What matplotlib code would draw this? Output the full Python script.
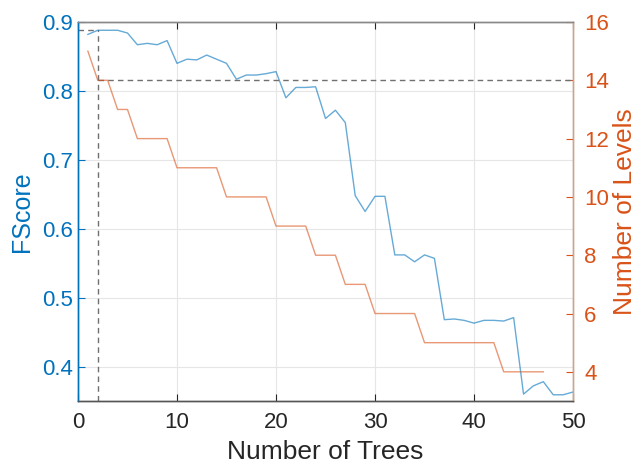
import numpy as np
import matplotlib
matplotlib.use('Agg')
import matplotlib.pyplot as plt

plt.rcParams['font.family'] = ['Liberation Sans', 'DejaVu Sans']

trees = list(range(1, 51))
fscore = [0.882, 0.888, 0.888, 0.888, 0.884, 0.867, 0.869, 0.867, 0.873, 0.840,
          0.846, 0.845, 0.852, 0.846, 0.840, 0.817, 0.823, 0.823, 0.825, 0.828,
          0.790, 0.805, 0.805, 0.806, 0.760, 0.772, 0.754, 0.648, 0.625, 0.647,
          0.647, 0.562, 0.562, 0.552, 0.562, 0.557, 0.468, 0.469, 0.467, 0.463,
          0.467, 0.467, 0.466, 0.471, 0.360, 0.372, 0.378, 0.359, 0.359, 0.363]

level_trees = list(range(1, 48))
levels = [15, 14, 14, 13, 13, 12, 12, 12, 12, 11,
          11, 11, 11, 11, 10, 10, 10, 10, 10, 9,
          9, 9, 9, 8, 8, 8, 7, 7, 7, 6,
          6, 6, 6, 6, 5, 5, 5, 5, 5, 5,
          5, 5, 4, 4, 4, 4, 4]

best_trees = 2
best_fscore = 0.888
best_levels = 14

blue = '#0072BD'
orange = '#D95319'
dark = '#262626'

fig = plt.figure(figsize=(6.36, 4.68), dpi=100)
ax = fig.add_axes([0.1226, 0.1432, 0.7784, 0.8098])
ax2 = ax.twinx()

ax.plot(trees, fscore, color=blue, lw=1.0, alpha=0.6, zorder=3)
ax2.plot(level_trees, levels, color=orange, lw=1.0, alpha=0.6, zorder=3)

# best point guides
ax.plot([0, best_trees], [best_fscore, best_fscore], ls='--', color='#707070', lw=1.0, dashes=(4, 3))
ax.plot([best_trees, best_trees], [0.35, best_fscore], ls='--', color='#707070', lw=1.0, dashes=(4, 3))
ax2.plot([best_trees, 50], [best_levels, best_levels], ls='--', color='#707070', lw=1.0, dashes=(4, 3))

ax.set_xlim(0, 50)
ax.set_ylim(0.35, 0.9)
ax2.set_ylim(3, 16)
ax.set_xticks(range(0, 51, 10))
ax.set_yticks([0.4, 0.5, 0.6, 0.7, 0.8, 0.9])
ax2.set_yticks(range(4, 17, 2))

ax.grid(True, color='#e6e6e6', lw=0.8)
ax.set_axisbelow(True)

ax.tick_params(axis='x', direction='in', top=True, length=5, labelsize=16, colors=dark, pad=8)
ax.tick_params(axis='y', direction='in', length=5, labelsize=16, colors=blue)
ax2.tick_params(axis='y', direction='in', length=5, labelsize=16, colors=orange, pad=8)

ax.set_xlabel('Number of Trees', fontsize=19, color=dark, labelpad=5)
ax.set_ylabel('FScore', fontsize=18, color=blue, labelpad=6)
ax2.set_ylabel('Number of Levels', fontsize=19, color=orange, labelpad=3)

for a in (ax, ax2):
    a.spines['top'].set_color('#888888')
    a.spines['bottom'].set_color('#555555')
    a.spines['left'].set_color(blue)
    a.spines['right'].set_color('#c9a68f')
    for s in a.spines.values():
        s.set_linewidth(1.0)

fig.savefig('out.png', dpi=100)
